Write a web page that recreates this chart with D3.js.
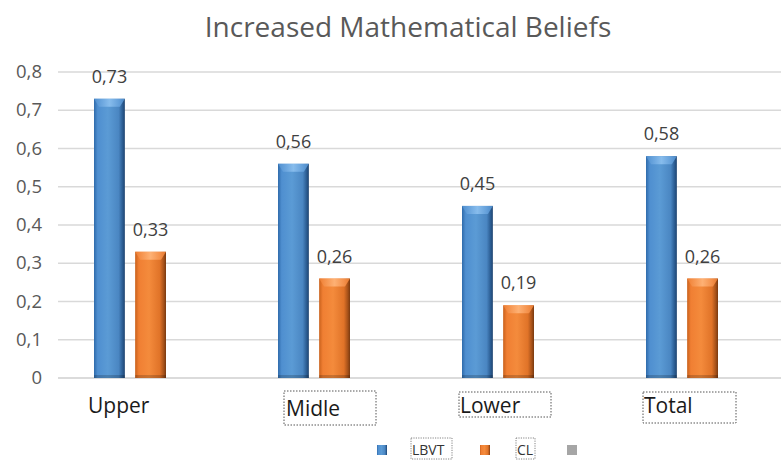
<!DOCTYPE html>
<html>
<head>
<meta charset="utf-8">
<script src="https://cdn.jsdelivr.net/npm/d3@7/dist/d3.min.js"></script>
<style>
  html, body { margin: 0; padding: 0; background: #fff; }
  svg { display: block; font-family: "Open Sans", Lato, sans-serif; }
</style>
</head>
<body>
<svg id="chart" width="781" height="461"></svg>
<script>
const categories = ["Upper", "Midle", "Lower", "Total"];
const seriesNames = ["LBVT", "CL"];
const lbvt = [0.73, 0.56, 0.45, 0.58];
const cl = [0.33, 0.26, 0.19, 0.26];
const yTicks = [0, 0.1, 0.2, 0.3, 0.4, 0.5, 0.6, 0.7, 0.8];

const svg = d3.select("#chart");
const fmt = v => String(v).replace(".", ",");

const y = d3.scaleLinear().domain([0, 0.8]).range([378, 72]);
const x0 = d3.scaleBand().domain(categories).range([38, 774]).paddingInner(0).paddingOuter(0);
const x1 = d3.scaleBand().domain(seriesNames).range([x0.bandwidth() / 2 - 36, x0.bandwidth() / 2 + 36]).paddingInner(0.25);

// gradients for the bevelled bars
const defs = svg.append("defs");
function barGradient(id, stops) {
  const g = defs.append("linearGradient").attr("id", id).attr("x1", 0).attr("x2", 1).attr("y1", 0).attr("y2", 0);
  stops.forEach(s => g.append("stop").attr("offset", s[0]).attr("stop-color", s[1]));
}
barGradient("gBlue", [[0, "#2f6bab"], [0.12, "#4f8fd0"], [0.45, "#5b9bd5"], [0.8, "#4a86c2"], [0.92, "#2c5e94"], [1, "#1f4470"]]);
barGradient("gOrange", [[0, "#c9611c"], [0.12, "#f07f33"], [0.45, "#f48b3c"], [0.8, "#e07328"], [0.92, "#a9531a"], [1, "#7a3a10"]]);
barGradient("gBlueTop", [[0, "#4f8fd0"], [0.5, "#8cc0ef"], [1, "#4f8fd0"]]);
barGradient("gOrangeTop", [[0, "#f07f33"], [0.5, "#ffb57a"], [1, "#f07f33"]]);

// title
svg.append("text").attr("x", 408).attr("y", 37).attr("text-anchor", "middle")
  .attr("font-size", 28).attr("fill", "#595959").text("Increased Mathematical Beliefs");

// gridlines and y labels
const grid = svg.append("g");
yTicks.forEach(t => {
  grid.append("line").attr("x1", 58).attr("x2", 781).attr("y1", y(t)).attr("y2", y(t))
    .attr("stroke", t === 0 ? "#cfcfcf" : "#d9d9d9").attr("stroke-width", 1.3);
  grid.append("text").attr("x", 42).attr("y", y(t) + 6).attr("text-anchor", "end")
    .attr("font-size", 18.5).attr("fill", "#595959").text(fmt(t));
});

// bars
const series = [
  { name: "LBVT", values: lbvt, fill: "url(#gBlue)", top: "url(#gBlueTop)" },
  { name: "CL", values: cl, fill: "url(#gOrange)", top: "url(#gOrangeTop)" }
];
const barsG = svg.append("g");
categories.forEach((c, i) => {
  series.forEach(s => {
    const v = s.values[i];
    const bx = x0(c) + x1(s.name);
    const bw = x1.bandwidth();
    const by = y(v);
    const bh = y(0) - by;
    barsG.append("rect").attr("x", bx).attr("y", by).attr("width", bw).attr("height", bh).attr("fill", s.fill);
    // chamfered top highlight
    barsG.append("path")
      .attr("d", `M${bx},${by} L${bx + bw},${by} L${bx + bw - 5},${by + 8} L${bx + 5},${by + 8} Z`)
      .attr("fill", s.top).attr("opacity", 0.9);
    // darker foot
    barsG.append("rect").attr("x", bx).attr("y", y(0) - 3).attr("width", bw).attr("height", 3)
      .attr("fill", "#000").attr("opacity", 0.18);
    barsG.append("text").attr("x", bx + bw / 2).attr("y", by - 16).attr("text-anchor", "middle")
      .attr("font-size", 18).attr("fill", "#404040").text(fmt(v));
  });
});

// category labels, each in its own (dotted) text box; the first box has no outline
const labelBoxes = [
  { dx: -6, baseline: 413, box: null },
  { dx: 8, baseline: 416, box: { x: -2, y: 391, w: 92, h: 34 } },
  { dx: -2, baseline: 413, box: { x: -1, y: 392, w: 92, h: 25 } },
  { dx: -2, baseline: 413, box: { x: -1, y: 392, w: 93, h: 31 } }
];
const catG = svg.append("g");
categories.forEach((c, i) => {
  const lb = labelBoxes[i];
  const lx = x0(c) + x1("LBVT") + lb.dx;
  if (lb.box) {
    catG.append("rect").attr("x", lx + lb.box.x).attr("y", lb.box.y).attr("width", lb.box.w).attr("height", lb.box.h)
      .attr("fill", "none").attr("stroke", "#555").attr("stroke-width", 1).attr("stroke-dasharray", "1.5,1.5");
  }
  catG.append("text").attr("x", lx).attr("y", lb.baseline).attr("font-size", 21).attr("fill", "#1a1a1a").text(c);
});

// legend
const legend = svg.append("g");
const legendItems = [
  { sq: 377, fill: "url(#gBlue)", label: "LBVT", lx: 412, bw: 41 },
  { sq: 480, fill: "url(#gOrange)", label: "CL", lx: 517, bw: 19 },
  { sq: 567, fill: "#a6a6a6", label: null }
];
legendItems.forEach(it => {
  legend.append("rect").attr("x", it.sq).attr("y", 445).attr("width", 10).attr("height", 10).attr("fill", it.fill);
  if (it.label) {
    legend.append("rect").attr("x", it.lx - 1).attr("y", 438).attr("width", it.bw).attr("height", 21)
      .attr("fill", "none").attr("stroke", "#666").attr("stroke-width", 0.8).attr("stroke-dasharray", "1.2,1.2");
    legend.append("text").attr("x", it.lx).attr("y", 455).attr("font-size", 14).attr("fill", "#333")
      .text(it.label);
  }
});
</script>
</body>
</html>
